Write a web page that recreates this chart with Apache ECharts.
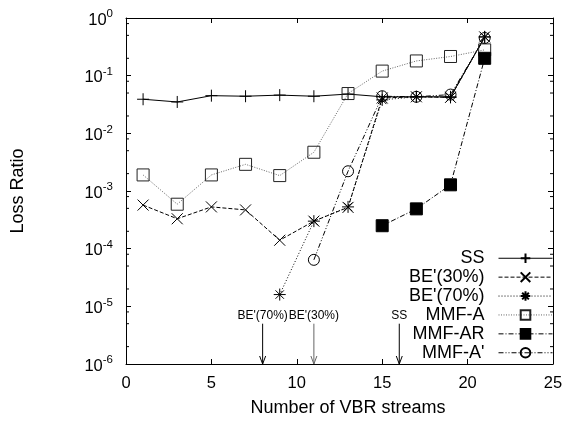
<!DOCTYPE html>
<html>
<head>
<meta charset="utf-8">
<script src="https://cdn.jsdelivr.net/npm/echarts@6/dist/echarts.min.js"></script>
<style>html,body{margin:0;padding:0;background:#fff}#c{width:569px;height:422px}</style>
</head>
<body>
<div id="c"></div>
<script>
// ---- data ----
const xTicks = [0, 5, 10, 15, 20, 25];
const ssX = [1, 3, 5, 7, 9, 11, 13, 15, 17, 19, 21];
const ssY = [0.039, 0.035, 0.045, 0.044, 0.046, 0.044, 0.048, 0.043, 0.043, 0.043, 0.47];
const be30X = [1, 3, 5, 7, 9, 11, 13, 15, 17, 19, 21];
const be30Y = [5.7e-4, 3.3e-4, 5.3e-4, 4.7e-4, 1.4e-4, 3.0e-4, 5.2e-4, 0.041, 0.043, 0.042, 0.47];
const be70X = [9, 11, 13, 15, 17, 19, 21];
const be70Y = [1.6e-5, 3.0e-4, 5.3e-4, 0.038, 0.043, 0.042, 0.47];
const mmfaX = [1, 3, 5, 7, 9, 11, 13, 15, 17, 19, 21];
const mmfaY = [1.9e-3, 5.9e-4, 1.9e-3, 2.9e-3, 1.85e-3, 4.7e-3, 0.049, 0.12, 0.18, 0.215, 0.28];
const mmfarX = [15, 17, 19, 21];
const mmfarY = [2.5e-4, 4.9e-4, 1.28e-3, 0.20];
const mmfapX = [11, 13, 15, 17, 19, 21];
const mmfapY = [6.4e-5, 2.2e-3, 0.044, 0.043, 0.047, 0.45];
const seriesNames = ['SS', "BE'(30%)", "BE'(70%)", 'MMF-A', 'MMF-AR', "MMF-A'"];
// annotations (arrows)
const annX = [8, 11, 16];
const annLabels = ["BE'(70%)", "BE'(30%)", 'SS'];
const annTop = 5e-6;
const annBottom = 1e-6;
// minor ticks on log axis
const minorTickVals = [2e-6,5e-6,8e-6,2e-5,5e-5,8e-5,2e-4,5e-4,8e-4,2e-3,5e-3,8e-3,2e-2,5e-2,8e-2,2e-1,5e-1,8e-1];

const FONT = 'Liberation Sans';
const pair = (xs, ys) => xs.map((x, i) => [x, ys[i]]);

const PLUS = 'path://M0,5L10,5M5,0L5,10';
const CROSS = 'path://M0,0L10,10M10,0L0,10';
const STAR = 'path://M0,5L10,5M5,0L5,10M1.5,1.5L8.5,8.5M8.5,1.5L1.5,8.5';

function lineSeries(name, data, symbol, size, dash, lineColor, symColor, fillNone) {
  return {
    name, type: 'line', data, symbol, symbolSize: size,
    showAllSymbol: true, animation: false, z: 3,
    lineStyle: { color: lineColor, width: 1, type: dash },
    itemStyle: { color: fillNone ? 'rgba(0,0,0,0)' : symColor, borderColor: symColor, borderWidth: 1 }
  };
}

const chart = echarts.init(document.getElementById('c'), null, { renderer: 'canvas' });

const series = [
  lineSeries('SS', pair(ssX, ssY), PLUS, 12, 'solid', '#000', '#000'),
  lineSeries("BE'(30%)", pair(be30X, be30Y), CROSS, 11, [4, 2], '#000', '#000'),
  lineSeries("BE'(70%)", pair(be70X, be70Y), STAR, 12, [1, 2], '#000', '#000'),
  lineSeries('MMF-A', pair(mmfaX, mmfaY), 'rect', 12, [1, 1.5], '#666', '#222', true),
  lineSeries('MMF-AR', pair(mmfarX, mmfarY), 'rect', 12, [5, 2, 1, 2], '#000', '#000'),
  lineSeries("MMF-A'", pair(mmfapX, mmfapY), 'circle', 11, [5, 2, 1, 2, 1, 2], '#000', '#000', true),
  {
    type: 'custom', name: 'minor', silent: true, animation: false, z: 2,
    data: minorTickVals.map(v => [0, v]),
    renderItem: function (params, api) {
      const l = api.coord([0, api.value(1)]);
      const r = api.coord([25, api.value(1)]);
      return { type: 'group', children: [
        { type: 'line', shape: { x1: l[0], y1: l[1], x2: l[0] + 3, y2: l[1] }, style: { stroke: '#000', lineWidth: 1 } },
        { type: 'line', shape: { x1: r[0] - 3, y1: r[1], x2: r[0], y2: r[1] }, style: { stroke: '#000', lineWidth: 1 } }
      ]};
    }
  },
  {
    type: 'custom', name: 'ann', silent: true, animation: false, z: 2,
    data: annX.map((x, i) => [x, i]),
    renderItem: function (params, api) {
      const x = api.value(0);
      const i = api.value(1);
      const t = api.coord([x, annTop]);
      const b = api.coord([x, annBottom]);
      const col = i === 1 ? '#666' : '#000';
      return { type: 'group', children: [
        { type: 'line', shape: { x1: t[0], y1: t[1], x2: b[0], y2: b[1] }, style: { stroke: col, lineWidth: 1 } },
        { type: 'polyline', shape: { points: [[b[0] - 3, b[1] - 8], [b[0], b[1]], [b[0] + 3, b[1] - 8]] }, style: { stroke: col, fill: null, lineWidth: 1 } },
        { type: 'text', style: { x: t[0], y: t[1] - 2, text: annLabels[i], fill: '#000', font: '12px ' + FONT, align: 'center', verticalAlign: 'bottom' } }
      ]};
    }
  }
];

const option = {
  backgroundColor: '#fff',
  animation: false,
  textStyle: { fontFamily: FONT, color: '#000' },
  grid: { left: 126, right: 16, top: 18, bottom: 58, containLabel: false },
  legend: {
    data: seriesNames,
    orient: 'vertical', align: 'right',
    right: 16, top: 249, padding: 0,
    itemWidth: 54, itemHeight: 12, itemGap: 0.4,
    lineStyle: { width: 1 },
    textStyle: { fontFamily: FONT, fontSize: 18, color: '#000', lineHeight: 18.5, padding: [0, 9, 0, 0] },
    backgroundColor: 'transparent',
    selectedMode: false
  },
  xAxis: [
    {
      type: 'value', min: 0, max: 25, interval: 5,
      name: 'Number of VBR streams', nameLocation: 'middle', nameGap: 35,
      nameTextStyle: { fontFamily: FONT, fontSize: 18, color: '#000', padding: [0, 0, 0, 17] },
      axisLine: { show: true, onZero: false, lineStyle: { color: '#000', width: 1 } },
      axisTick: { show: true, inside: true, length: 5, lineStyle: { color: '#000' } },
      axisLabel: { fontFamily: FONT, fontSize: 16.5, color: '#000', margin: 11, formatter: v => xTicks.includes(v) ? String(v) : '' },
      splitLine: { show: false }
    },
    {
      type: 'value', min: 0, max: 25, interval: 5, position: 'top',
      axisLine: { show: true, onZero: false, lineStyle: { color: '#000', width: 1 } },
      axisTick: { show: true, inside: true, length: 5, lineStyle: { color: '#000' } },
      axisLabel: { show: false }, splitLine: { show: false }
    }
  ],
  yAxis: [
    {
      type: 'log', logBase: 10, min: 1e-6, max: 1,
      name: 'Loss Ratio', nameLocation: 'middle', nameGap: 99, nameRotate: 90,
      nameTextStyle: { fontFamily: FONT, fontSize: 18, color: '#000' },
      axisLine: { show: true, onZero: false, lineStyle: { color: '#000', width: 1 } },
      axisTick: { show: true, inside: true, length: 5, lineStyle: { color: '#000' } },
      axisLabel: {
        margin: 13, color: '#000',
        formatter: function (v) {
          const e = Math.round(Math.log10(v));
          return '{b|10}{s|' + e + '}';
        },
        rich: {
          b: { fontFamily: FONT, fontSize: 16.5, color: '#000', padding: [4, 0, 0, 0] },
          s: { fontFamily: FONT, fontSize: 11.5, color: '#000', padding: [0, 0, 8, 0] }
        }
      },
      splitLine: { show: false }
    },
    {
      type: 'log', logBase: 10, min: 1e-6, max: 1, position: 'right',
      axisLine: { show: true, onZero: false, lineStyle: { color: '#000', width: 1 } },
      axisTick: { show: true, inside: true, length: 5, lineStyle: { color: '#000' } },
      axisLabel: { show: false }, splitLine: { show: false }
    }
  ],
  series
};
chart.setOption(option);
</script>
</body>
</html>
